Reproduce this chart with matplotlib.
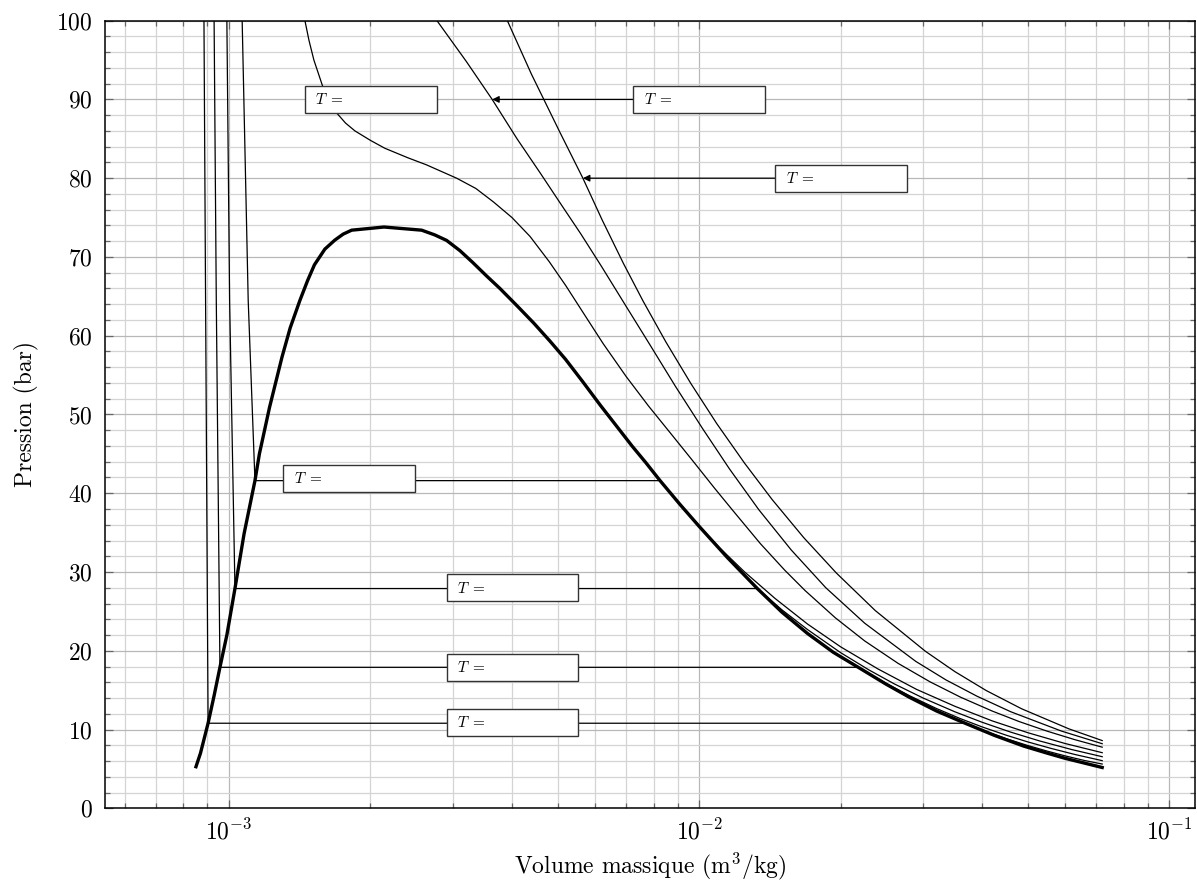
import matplotlib
matplotlib.use("Agg")
import matplotlib.pyplot as plt
from matplotlib.patches import Rectangle
from matplotlib.ticker import MultipleLocator, LogLocator, NullFormatter

plt.rcParams['font.family'] = 'serif'
plt.rcParams['font.serif'] = ['cmr10']
plt.rcParams['mathtext.fontset'] = 'cm'
plt.rcParams['axes.formatter.use_mathtext'] = True

# saturation dome (v in m3/kg, P in bar)
sat_v = [8.51e-4, 8.7e-4, 9.03e-4, 9.3e-4, 9.57e-4, 9.9e-4, 1.03e-3, 1.077e-3,
         1.136e-3, 1.161e-3, 1.22e-3, 1.297e-3, 1.35e-3, 1.416e-3, 1.47e-3,
         1.52e-3, 1.6e-3, 1.68e-3, 1.75e-3, 1.824e-3,
         2.137e-3, 2.57e-3, 2.74e-3, 2.904e-3, 3.1e-3, 3.3e-3, 3.53e-3, 3.77e-3,
         4.1e-3, 4.45e-3, 4.82e-3, 5.2e-3, 5.65e-3, 6.16e-3, 6.7e-3, 7.2e-3,
         7.7e-3, 8.26e-3, 9.1e-3, 1.0e-2, 1.15e-2, 1.33e-2, 1.5e-2, 1.7e-2,
         1.93e-2, 2.18e-2, 2.5e-2, 2.8e-2, 3.2e-2, 3.68e-2, 4.25e-2, 4.9e-2,
         5.5e-2, 6.0e-2, 6.6e-2, 7.2e-2]
sat_p = [5.28, 7.0, 10.8, 14.3, 17.9, 22.0, 27.9, 34.85,
         41.6, 45.0, 50.9, 57.3, 61.0, 64.5, 67.0,
         69.0, 71.0, 72.14, 72.9, 73.4,
         73.8, 73.4, 72.8, 72.1, 70.8, 69.3, 67.6, 66.0,
         63.8, 61.6, 59.3, 57.0, 54.2, 51.2, 48.4, 46.0,
         43.9, 41.6, 38.6, 35.8, 31.8, 27.9, 24.9, 22.2,
         19.8, 17.9, 15.75, 14.1, 12.35, 10.8, 9.25, 7.9,
         7.0, 6.35, 5.74, 5.18]

# subcritical isotherms: liquid branch, plateau, vapour branch
iso1_v = [8.85e-4, 8.92e-4, 9.03e-4, 3.68e-2, 4.0e-2, 4.5e-2, 5.0e-2, 5.5e-2,
          6.0e-2, 6.6e-2, 7.2e-2]
iso1_p = [100, 64.4, 10.8, 10.8, 9.93, 8.84, 7.97, 7.26, 6.66, 6.07, 5.62]

iso2_v = [9.30e-4, 9.40e-4, 9.57e-4, 2.18e-2, 2.5e-2, 2.8e-2, 3.2e-2, 3.6e-2,
          4.0e-2, 4.5e-2, 5.0e-2, 5.6e-2, 6.3e-2, 7.2e-2]
iso2_p = [100, 64.5, 17.9, 17.9, 15.85, 14.3, 12.66, 11.37, 10.33, 9.28, 8.43,
          7.61, 6.83, 6.05]

iso3_v = [9.90e-4, 1.0034e-3, 1.03e-3, 1.33e-2, 1.5e-2, 1.7e-2, 2.0e-2, 2.3e-2,
          2.6e-2, 3.0e-2, 3.5e-2, 4.0e-2, 4.6e-2, 5.3e-2, 6.2e-2, 7.2e-2]
iso3_p = [100, 64.5, 27.9, 27.9, 25.2, 22.7, 19.76, 17.55, 15.8, 13.98, 12.25,
          10.92, 9.67, 8.55, 7.46, 6.55]

iso4_v = [1.067e-3, 1.099e-3, 1.136e-3, 8.26e-3, 9.5e-3, 1.1e-2, 1.25e-2, 1.45e-2,
          1.7e-2, 2.0e-2, 2.4e-2, 2.9e-2, 3.5e-2, 4.2e-2, 5.0e-2, 6.0e-2, 7.2e-2]
iso4_p = [100, 64.5, 41.6, 41.6, 37.3, 33.2, 30.0, 26.65, 23.4, 20.5, 17.7, 15.1,
          12.95, 11.1, 9.6, 8.23, 7.06]

# supercritical isotherms
iso5_v = [1.451e-3, 1.48e-3, 1.516e-3, 1.582e-3, 1.63e-3, 1.694e-3, 1.77e-3,
          1.854e-3, 2.0e-3, 2.146e-3, 2.4e-3, 2.63e-3, 3.05e-3, 3.35e-3, 3.65e-3,
          4.0e-3, 4.37e-3, 4.8e-3, 5.2e-3, 5.7e-3, 6.25e-3, 7.0e-3, 7.8e-3,
          8.7e-3, 9.7e-3, 1.08e-2, 1.18e-2, 1.35e-2, 1.52e-2, 1.68e-2, 1.95e-2,
          2.25e-2, 2.65e-2, 3.1e-2, 3.6e-2, 4.2e-2, 4.8e-2, 5.5e-2, 6.3e-2, 7.2e-2]
iso5_p = [100, 97.5, 95, 91.7, 89.8, 88.3, 87.0,
          86.0, 84.8, 83.8, 82.6, 81.7, 80.0, 78.7, 77.0,
          75.0, 72.6, 69.4, 66.4, 62.7, 59.0, 54.8, 51.1,
          47.6, 44.1, 40.6, 37.8, 33.6, 30.25, 27.65, 24.17,
          21.25, 18.4, 16.05, 14.1, 12.35, 11.0, 9.79, 8.71, 7.76]

iso6_v = [2.77e-3, 3.2e-3, 3.63e-3, 4.1e-3, 4.6e-3, 5.07e-3, 5.6e-3, 6.2e-3,
          7.0e-3, 7.85e-3, 8.9e-3, 1.02e-2, 1.16e-2, 1.34e-2, 1.57e-2, 1.86e-2,
          2.25e-2, 2.89e-2, 3.35e-2, 3.9e-2, 4.6e-2, 5.9e-2, 7.2e-2]
iso6_p = [100, 94.8, 90, 85.0, 80.6, 76.8, 72.95, 68.8,
          63.7, 58.9, 53.6, 48.1, 43.1, 37.9, 32.8, 28.0,
          23.5, 18.65, 16.3, 14.23, 12.26, 9.8, 8.2]

iso7_v = [3.91e-3, 4.4e-3, 5.07e-3, 5.66e-3, 6.22e-3, 6.9e-3, 7.6e-3, 8.5e-3,
          9.6e-3, 1.09e-2, 1.25e-2, 1.43e-2, 1.67e-2, 1.96e-2, 2.37e-2, 3.03e-2,
          3.5e-2, 4.08e-2, 4.85e-2, 6.12e-2, 7.2e-2]
iso7_p = [100, 93.2, 85.7, 80, 74.7, 69.2, 64.4, 59.2,
          53.95, 48.85, 43.8, 39.2, 34.35, 29.85, 25.1, 19.93,
          17.35, 14.95, 12.64, 10.08, 8.6]

isotherms = [(iso1_v, iso1_p), (iso2_v, iso2_p), (iso3_v, iso3_p), (iso4_v, iso4_p),
             (iso5_v, iso5_p), (iso6_v, iso6_p), (iso7_v, iso7_p)]

# label boxes: (v_left, v_right, P_center)
boxes = [(1.451e-3, 2.768e-3, 90.0),
         (7.24e-3, 1.382e-2, 90.0),
         (1.451e-2, 2.77e-2, 80.0),
         (1.305e-3, 2.483e-3, 41.9),
         (2.904e-3, 5.53e-3, 28.0),
         (2.904e-3, 5.53e-3, 17.9),
         (2.904e-3, 5.53e-3, 10.9)]
# arrows: (tip on curve, start at box edge)
arrows = [((3.63e-3, 90.0), (7.24e-3, 90.0)),
          ((5.66e-3, 80.0), (1.451e-2, 80.0))]

fig = plt.figure(figsize=(11.97, 8.83), dpi=100)
ax = fig.add_axes([0.0877, 0.0846, 0.9106, 0.892])

for v, p in isotherms:
    ax.plot(v, p, color='k', lw=0.9, zorder=3)
ax.plot(sat_v, sat_p, color='k', lw=2.4, zorder=3)

h = 1.72
for v0, v1, pc in boxes:
    ax.add_patch(Rectangle((v0, pc - h), v1 - v0, 2 * h, facecolor='white',
                           edgecolor='#333333', lw=1.0, zorder=5))
    ax.annotate(r'$T\;=$', xy=(v0, pc), xytext=(7.5, -0.3), textcoords='offset points',
                va='center', ha='left', fontsize=11, zorder=6)

for tip, start in arrows:
    ax.annotate('', xy=tip, xytext=start,
                arrowprops=dict(arrowstyle='-|>', color='k', lw=0.9,
                                mutation_scale=10, shrinkA=0, shrinkB=0), zorder=4)

ax.set_xscale('log')
ax.set_xlim(5.45e-4, 0.1134)
ax.set_ylim(0, 100)
ax.yaxis.set_major_locator(MultipleLocator(10))
ax.yaxis.set_minor_locator(MultipleLocator(2))
ax.xaxis.set_major_locator(LogLocator(base=10))
ax.xaxis.set_minor_locator(LogLocator(base=10, subs=range(2, 10)))
ax.xaxis.set_minor_formatter(NullFormatter())

ax.set_axisbelow(True)
ax.grid(which='major', color='#b8b8b8', lw=0.9)
ax.grid(which='minor', color='#d4d4d4', lw=0.9)

ax.tick_params(which='both', direction='in', top=True, right=True, color='#666666',
               labelsize=17)
ax.tick_params(which='major', length=6, width=0.9)
ax.tick_params(which='minor', length=3.5, width=0.9)
ax.tick_params(axis='y', pad=9)
ax.tick_params(axis='x', pad=8)
for s in ax.spines.values():
    s.set_linewidth(1.1)

ax.set_xlabel(r'Volume massique (m$^3$/kg)', fontsize=17, labelpad=4)
ax.set_ylabel('Pression (bar)', fontsize=17, labelpad=12)

fig.savefig('out.png', dpi=100)
